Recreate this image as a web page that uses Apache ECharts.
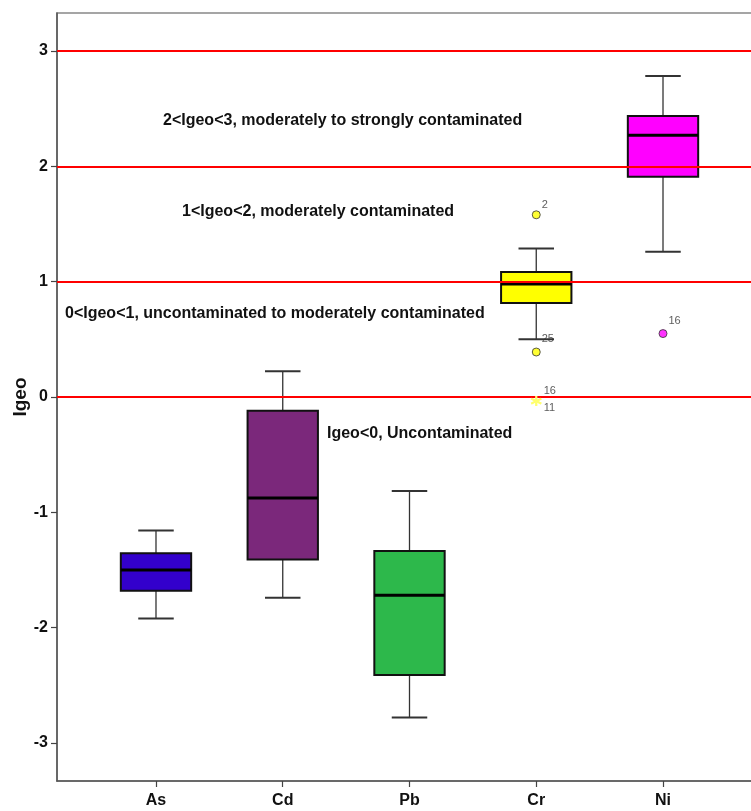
<!DOCTYPE html>
<html>
<head>
<meta charset="utf-8">
<script src="https://cdn.jsdelivr.net/npm/echarts@6/dist/echarts.min.js"></script>
<style>html,body{margin:0;padding:0;background:#fff;}#c{width:751px;height:811px;}</style>
</head>
<body>
<div id="c"></div>
<script>
// ---- data ----
var categories = ['As', 'Cd', 'Pb', 'Cr', 'Ni'];
var whiskerLow  = [-1.92, -1.74, -2.78, 0.50, 1.26];
var quartile1   = [-1.68, -1.41, -2.41, 0.815, 1.91];
var medians     = [-1.50, -0.876, -1.72, 0.98, 2.27];
var quartile3   = [-1.354, -0.119, -1.336, 1.084, 2.437];
var whiskerHigh = [-1.157, 0.223, -0.815, 1.287, 2.784];

// outliers (circle) and extremes (asterisk)
var outlierCat   = [3, 3, 4];
var outlierVal   = [1.58, 0.39, 0.55];
var outlierLabel = ['2', '25', '16'];
var extremeCat   = [3, 3];
var extremeVal   = [-0.035, -0.035];
var extremeLabel = ['16', '11'];

var yTicks = [-3, -2, -1, 0, 1, 2, 3];
var thresholds = [0, 1, 2, 3];

// ---- styles ----
var boxColors = ['#3300cc', '#7b287b', '#2db84b', '#ffff00', '#ff00ff'];
var outlierOffsets = [[1, -10], [1, -13], [1, -13]];
var extremeOffsets = [[0, -10], [0, 7]];
var FONT = '"Liberation Sans", Arial, sans-serif';

var chart = echarts.init(document.getElementById('c'), null, {renderer: 'canvas'});

var boxData = categories.map(function (c, i) {
  return [i + 1, whiskerLow[i], quartile1[i], medians[i], quartile3[i], whiskerHigh[i]];
});

function renderBox(params, api) {
  var x = api.value(0);
  var low = api.coord([x, api.value(1)]);
  var q1 = api.coord([x, api.value(2)]);
  var med = api.coord([x, api.value(3)]);
  var q3 = api.coord([x, api.value(4)]);
  var high = api.coord([x, api.value(5)]);
  var unit = api.size([1, 0])[0];
  var bw = unit * 0.555, cw = unit * 0.28;
  var cx = low[0];
  var wStyle = {stroke: '#333', lineWidth: 1.3};
  return {
    type: 'group',
    children: [
      {type: 'line', shape: {x1: cx, y1: high[1], x2: cx, y2: q3[1]}, style: wStyle},
      {type: 'line', shape: {x1: cx, y1: q1[1], x2: cx, y2: low[1]}, style: wStyle},
      {type: 'line', shape: {x1: cx - cw / 2, y1: high[1], x2: cx + cw / 2, y2: high[1]}, style: {stroke: '#333', lineWidth: 2}},
      {type: 'line', shape: {x1: cx - cw / 2, y1: low[1], x2: cx + cw / 2, y2: low[1]}, style: {stroke: '#333', lineWidth: 2}},
      {type: 'rect', shape: {x: cx - bw / 2, y: q3[1], width: bw, height: q1[1] - q3[1]},
        style: {fill: boxColors[params.dataIndex], stroke: '#111', lineWidth: 2}},
      {type: 'line', shape: {x1: cx - bw / 2, y1: med[1], x2: cx + bw / 2, y2: med[1]}, style: {stroke: '#000', lineWidth: 3}}
    ]
  };
}

var outlierData = outlierVal.map(function (v, i) {
  var c = outlierCat[i];
  return {
    value: [c + 1, v],
    name: outlierLabel[i],
    itemStyle: {color: boxColors[c], borderColor: '#333', borderWidth: 1},
    label: {show: true, formatter: outlierLabel[i], position: 'right', distance: 0, offset: outlierOffsets[i]}
  };
});

var extremeData = extremeVal.map(function (v, i) {
  var c = extremeCat[i];
  return {
    value: [c + 1, v],
    name: extremeLabel[i],
    label: {show: true, formatter: extremeLabel[i], position: 'right', distance: 0, offset: extremeOffsets[i]}
  };
});

var option = {
  backgroundColor: '#ffffff',
  animation: false,
  grid: {left: 57, right: -11, top: 13, bottom: 30, show: true, borderColor: '#888', borderWidth: 1.5,
    backgroundColor: 'transparent', containLabel: false, outerBoundsMode: 'none'},
  xAxis: {
    type: 'value', min: 0.219, max: 5.781,
    splitLine: {show: false},
    axisLine: {show: true, onZero: false, lineStyle: {color: '#555', width: 1.5}},
    axisTick: {show: true, length: 6, customValues: [1, 2, 3, 4, 5], lineStyle: {color: '#444', width: 1.2}},
    axisLabel: {
      customValues: [1, 2, 3, 4, 5], margin: 12,
      formatter: function (v) { return categories[Math.round(v) - 1] || ''; },
      color: '#111', fontFamily: FONT, fontSize: 16, fontWeight: 'bold'
    }
  },
  yAxis: {
    type: 'value', min: -3.33, max: 3.33,
    name: 'Igeo', nameLocation: 'middle', nameGap: 27, nameMoveOverlap: false,
    nameTextStyle: {color: '#111', fontFamily: FONT, fontSize: 19, fontWeight: 'bold'},
    splitLine: {show: false},
    axisLine: {show: true, onZero: false, lineStyle: {color: '#555', width: 1.5}},
    axisTick: {show: true, length: 6, customValues: yTicks, lineStyle: {color: '#444', width: 1.2}},
    axisLabel: {
      customValues: yTicks, margin: 9,
      color: '#111', fontFamily: FONT, fontSize: 16, fontWeight: 'bold'
    }
  },
  series: [
    {
      type: 'custom', name: 'box', renderItem: renderBox, data: boxData,
      encode: {x: 0, y: [1, 2, 3, 4, 5]}, z: 2
    },
    {
      type: 'line', name: 'thresholds', data: [], z: 5, silent: true,
      markLine: {
        silent: true, symbol: ['none', 'none'], animation: false,
        label: {show: false},
        lineStyle: {color: '#ff0000', width: 2, type: 'solid'},
        emphasis: {disabled: true},
        data: thresholds.map(function (t) { return {yAxis: t}; })
      }
    },
    {
      type: 'scatter', name: 'outliers', symbol: 'circle', symbolSize: 8, z: 6,
      data: outlierData,
      label: {color: '#333', fontFamily: FONT, fontSize: 11}
    },
    {
      type: 'scatter', name: 'extremes', z: 6,
      symbol: 'path://M0,-5L0,5M-4.33,-2.5L4.33,2.5M-4.33,2.5L4.33,-2.5',
      symbolSize: 10,
      itemStyle: {color: 'none', borderColor: '#ffff66', borderWidth: 2},
      data: extremeData,
      label: {color: '#333', fontFamily: FONT, fontSize: 11}
    }
  ],
  graphic: [
    {type: 'text', x: 163, y: 121, style: {text: '2<Igeo<3, moderately to strongly contaminated', font: 'bold 16px ' + FONT, fill: '#111', verticalAlign: 'middle'}},
    {type: 'text', x: 182, y: 212, style: {text: '1<Igeo<2, moderately contaminated', font: 'bold 16px ' + FONT, fill: '#111', verticalAlign: 'middle'}},
    {type: 'text', x: 65, y: 314, style: {text: '0<Igeo<1, uncontaminated to moderately contaminated', font: 'bold 16px ' + FONT, fill: '#111', verticalAlign: 'middle'}},
    {type: 'text', x: 327, y: 434, style: {text: 'Igeo<0, Uncontaminated', font: 'bold 16px ' + FONT, fill: '#111', verticalAlign: 'middle'}}
  ]
};
chart.setOption(option);
</script>
</body>
</html>
